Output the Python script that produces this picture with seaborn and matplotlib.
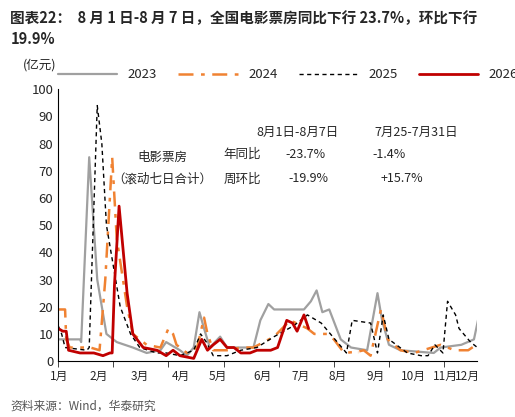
import numpy as np
import matplotlib
matplotlib.use('Agg')
import matplotlib.pyplot as plt
import seaborn as sns

sns.set_style('white')
plt.rcParams['font.family'] = ['Noto Sans CJK SC', 'DejaVu Sans']

# day-of-year, rolling 7-day box office (亿元)
d23 = [0, 19, 20, 27, 34, 42, 51, 65, 77, 89, 94, 106, 112, 118, 123, 127, 132, 141, 147, 170, 176, 183, 188, 205, 214, 220, 225, 230, 236, 246, 255, 269, 278, 282, 288, 298, 327, 333, 351, 362, 366]
v23 = [8, 8, 7, 75, 30, 10, 7, 5, 3, 4, 7, 4, 2, 5, 18, 12, 5, 9, 5, 5, 15, 21, 19, 19, 19, 22, 26, 18, 19, 8, 5, 4, 25, 15, 6, 4, 3, 5, 6, 8, 16]
d24 = [0, 6, 7, 10, 22, 28, 36, 41, 47, 51, 60, 65, 71, 77, 89, 96, 100, 103, 112, 121, 127, 130, 135, 147, 159, 170, 188, 202, 217, 223, 234, 240, 249, 261, 261, 266, 272, 281, 287, 298, 310, 333, 345, 357, 364]
v24 = [19, 19, 8, 5, 5, 5, 4, 30, 75, 45, 20, 10, 8, 6, 5, 12, 10, 6, 3, 5, 16, 10, 4, 4, 5, 5, 9, 15, 12, 10, 10, 8, 3, 3, 4, 4, 2, 19, 8, 4, 3, 6, 4, 4, 6]
d25 = [0, 3, 6, 25, 27, 34, 38, 42, 48, 54, 63, 71, 86, 94, 106, 118, 124, 129, 135, 147, 159, 173, 188, 205, 217, 229, 237, 245, 251, 256, 272, 278, 283, 288, 304, 316, 322, 328, 335, 339, 346, 349, 359, 365]
v25 = [13, 10, 5, 4, 5, 94, 80, 50, 35, 20, 10, 5, 3, 3, 2, 4, 10, 7, 2, 2, 4, 5, 9, 13, 17, 14, 10, 6, 3, 15, 14, 3, 17, 8, 3, 2, 2, 6, 3, 22, 17, 12, 7, 5]
d26 = [0, 4, 7, 9, 19, 25, 31, 39, 45, 47, 49, 53, 60, 65, 74, 86, 94, 100, 106, 118, 121, 125, 130, 135, 141, 147, 153, 159, 167, 173, 185, 191, 199, 204, 208, 214, 218]
v26 = [12, 11, 11, 4, 3, 3, 3, 2, 3, 3, 28, 57, 25, 10, 5, 4, 2, 4, 2, 1, 4, 8, 4, 6, 8, 5, 5, 3, 3, 4, 4, 5, 15, 14, 11, 17, 12]

month_pos = [1, 35, 71, 107, 139, 178, 211, 243, 276, 309, 337, 356]
month_lbl = ['1月', '2月', '3月', '4月', '5月', '6月', '7月', '8月', '9月', '10月', '11月', '12月']

fig = plt.figure(figsize=(5.15, 4.17), dpi=100)
ax = fig.add_axes([0.113, 0.134, 0.814, 0.652])

sns.lineplot(x=d23, y=v23, ax=ax, color='#a0a0a0', lw=1.6, label='2023')
sns.lineplot(x=d24, y=v24, ax=ax, color='#f08232', lw=1.8, label='2024')
sns.lineplot(x=d25, y=v25, ax=ax, color='black', lw=1.0, label='2025')
sns.lineplot(x=d26, y=v26, ax=ax, color='#c00000', lw=2.0, label='2026')
ax.lines[1].set_dashes([6, 3, 1.5, 3])
ax.lines[2].set_dashes([3, 2.5])

ax.set_xlim(0, 365)
ax.set_ylim(0, 100)
ax.set_yticks(range(0, 101, 10))
ax.set_xticks(month_pos)
ax.set_xticklabels(month_lbl)
ax.set_xticks(np.arange(0, 366, 48), minor=True)
ax.tick_params(axis='x', which='major', length=0, labelsize=8.5, pad=6)
ax.tick_params(axis='x', which='minor', length=4, direction='out', bottom=True)
ax.tick_params(axis='y', labelsize=9.5, length=0)
for s in ['top', 'right']:
    ax.spines[s].set_visible(False)
for s in ['left', 'bottom']:
    ax.spines[s].set_color('black')
    ax.spines[s].set_linewidth(0.8)

leg = ax.legend(loc='lower left', bbox_to_anchor=(-0.02, 1.0), ncol=4, frameon=False,
                fontsize=9.5, handlelength=4.5, handletextpad=0.8, columnspacing=1.6,
                borderaxespad=0.2)

fig.text(0.02, 0.975, '图表22：  8 月 1 日-8 月 7 日，全国电影票房同比下行 23.7%，环比下行', fontsize=10.5, weight='bold', va='top')
fig.text(0.02, 0.925, '19.9%', fontsize=10.5, weight='bold', va='top')
fig.text(0.045, 0.835, '(亿元)', fontsize=9)
fig.text(0.02, 0.018, '资料来源：Wind，华泰研究', fontsize=8.5, color='#555555')

kw = dict(transform=ax.transData, fontsize=9, va='center')
ax.text(208, 84, '8月1日-8月7日', ha='center', **kw)
ax.text(312, 84, '7月25-7月31日', ha='center', **kw)
ax.text(91, 75, '电影票房', ha='center', **kw)
ax.text(91, 67, '（滚动七日合计）', ha='center', **kw)
ax.text(160, 76, '年同比', ha='center', **kw)
ax.text(160, 67, '周环比', ha='center', **kw)
ax.text(215, 76, '-23.7%', ha='center', **kw)
ax.text(218, 67, '-19.9%', ha='center', **kw)
ax.text(288, 76, '-1.4%', ha='center', **kw)
ax.text(299, 67, '+15.7%', ha='center', **kw)

fig.savefig('out.png', dpi=100)
